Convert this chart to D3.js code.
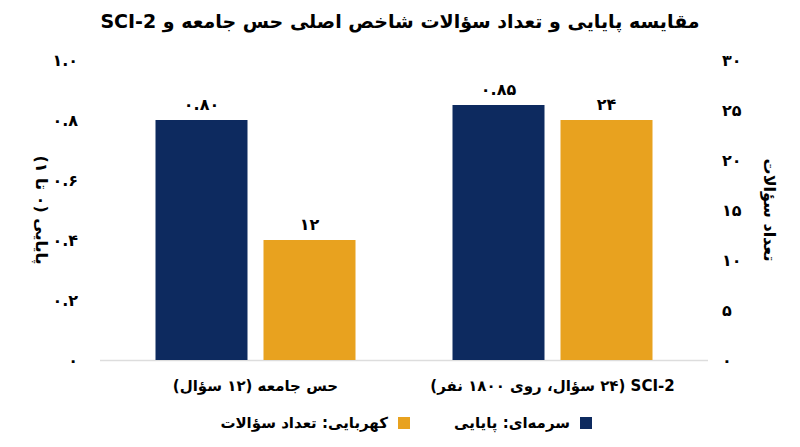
<!DOCTYPE html>
<html><head><meta charset="utf-8">
<script src="https://cdn.jsdelivr.net/npm/d3@7"></script>
<style>body{margin:0;background:#fff}text{font-family:"DejaVu Sans",sans-serif;font-weight:bold}</style>
</head><body><svg id="c" width="800" height="447"></svg>
<script>
const categories=["حس جامعه (۱۲ سؤال)","SCI-2 (۲۴ سؤال، روی ۱۸۰۰ نفر)"];
const reliability=[0.80,0.85];
const itemCount=[12,24];
const reliabilityLabels=["۰.۸۰","۰.۸۵"];
const countLabels=["۱۲","۲۴"];
const leftTicks=[0,0.2,0.4,0.6,0.8,1.0];
const leftTickLabels=["۰","۰.۲","۰.۴","۰.۶","۰.۸","۱.۰"];
const rightTicks=[0,5,10,15,20,25,30];
const rightTickLabels=["۰","۵","۱۰","۱۵","۲۰","۲۵","۳۰"];
const navy="#0d2a5f",amber="#e8a21f";
const svg=d3.select("#c");
const x=d3.scaleBand().domain(categories).range([107,701]);
const yL=d3.scaleLinear().domain([0,1]).range([360,60]);
const yR=d3.scaleLinear().domain([0,30]).range([360,60]);
svg.append("text").attr("x",400).attr("y",28).attr("text-anchor","middle").attr("font-size",19).attr("direction","rtl")
 .text("مقایسه پایایی و تعداد سؤالات شاخص اصلی حس جامعه و SCI-2");
svg.append("line").attr("x1",100).attr("x2",708).attr("y1",360.5).attr("y2",360.5).attr("stroke","#ddd").attr("stroke-width",1.5);
leftTicks.forEach((t,i)=>svg.append("text").attr("x",78).attr("y",yL(t)+6).attr("text-anchor","end").attr("font-size",16).text(leftTickLabels[i]));
rightTicks.forEach((t,i)=>svg.append("text").attr("x",722).attr("y",yR(t)+6).attr("text-anchor","start").attr("font-size",16).text(rightTickLabels[i]));
const bw=92,gap=16;
categories.forEach((c,i)=>{
 const cx=x(c)+x.bandwidth()/2;
 const x1=cx-gap/2-bw, x2=cx+gap/2;
 svg.append("rect").attr("x",x1).attr("width",bw).attr("y",yL(reliability[i])).attr("height",360-yL(reliability[i])).attr("fill",navy);
 svg.append("rect").attr("x",x2).attr("width",bw).attr("y",yR(itemCount[i])).attr("height",360-yR(itemCount[i])).attr("fill",amber);
 svg.append("text").attr("x",x1+bw/2).attr("y",yL(reliability[i])-10).attr("text-anchor","middle").attr("font-size",16).text(reliabilityLabels[i]);
 svg.append("text").attr("x",x2+bw/2).attr("y",yR(itemCount[i])-10).attr("text-anchor","middle").attr("font-size",16).text(countLabels[i]);
 svg.append("text").attr("x",cx).attr("y",391).attr("text-anchor","middle").attr("font-size",15).attr("direction","rtl").text(c);
});
svg.append("text").attr("transform","translate(36,210) rotate(90)").attr("text-anchor","middle").attr("font-size",16).attr("direction","rtl").text("پایایی (۰ تا ۱)");
svg.append("text").attr("transform","translate(764,210) rotate(90)").attr("text-anchor","middle").attr("font-size",16).attr("direction","rtl").text("تعداد سؤالات");
// legend
svg.append("rect").attr("x",580).attr("y",417).attr("width",12).attr("height",12).attr("fill",navy);
svg.append("text").attr("x",570).attr("y",428).attr("text-anchor","start").attr("direction","rtl").attr("font-size",15).text("سرمه‌ای: پایایی");
svg.append("rect").attr("x",398).attr("y",417).attr("width",12).attr("height",12).attr("fill",amber);
svg.append("text").attr("x",388).attr("y",428).attr("text-anchor","start").attr("direction","rtl").attr("font-size",15).text("کهربایی: تعداد سؤالات");
</script></body></html>
